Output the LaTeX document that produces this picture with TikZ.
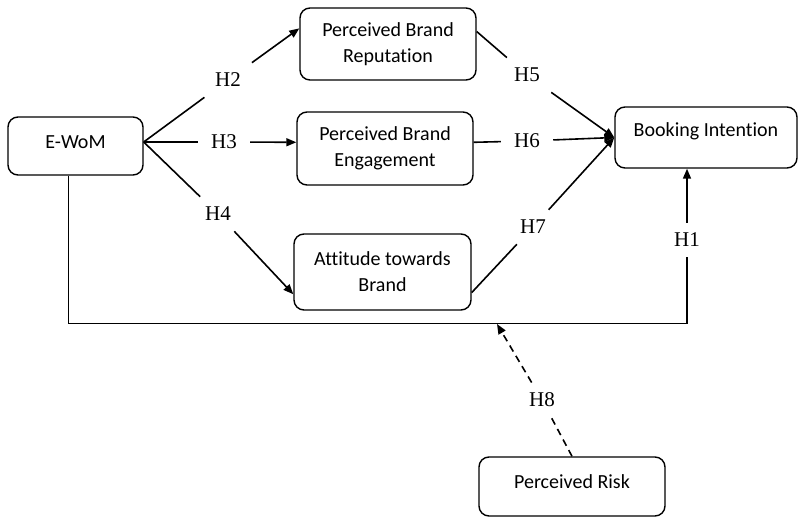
\documentclass[tikz,border=0pt]{standalone}
\usepackage{fontspec}
\setmainfont{Liberation Serif}
\newfontfamily\boxfont[Ligatures={NoCommon}]{Carlito}
\usetikzlibrary{positioning,arrows.meta}

\tikzset{
  conbox/.style={draw, line width=0.7pt, rounded corners=5pt, align=center,
    inner sep=0pt, font=\boxfont\fontsize{10}{13}\selectfont},
  hlabel/.style={inner xsep=6.5pt, inner ysep=5pt, font=\fontsize{10.5}{12}\selectfont},
  plain/.style={line width=0.8pt},
  link/.style={line width=0.8pt, -{Triangle[length=5pt,width=4pt]}},
  loopline/.style={line width=0.5pt},
  riskline/.style={line width=0.8pt, dash pattern=on 3.5pt off 2.5pt},
}

\begin{document}
\begin{tikzpicture}[x=0.5pt,y=-0.5pt]
\useasboundingbox (0,0) rectangle (798,517);

% constructs
\node[conbox, minimum width=67.5pt, minimum height=29pt, text height=7pt, text depth=4pt] (ewom) at (75.5,146) {E-WoM};
\node[conbox, minimum width=88pt, minimum height=36pt] (pbr) at (388,44) {Perceived Brand\\Reputation};
\node[conbox, minimum width=88pt, minimum height=36.5pt] (pbe) at (385,148.5) {Perceived Brand\\Engagement};
\node[conbox, minimum width=88.5pt, minimum height=38pt] (att) at (382.5,272) {Attitude towards\\Brand};
\node[conbox, minimum width=91pt, minimum height=30.5pt, text height=7pt, text depth=7.5pt] (bi) at (706,137.5) {Booking Intention};
\node[conbox, minimum width=93pt, minimum height=29.5pt, text height=7pt, text depth=4.5pt] (pr) at (572,486.5) {Perceived Risk};

% hypothesis labels
\node[hlabel] (h1) at (687,240) {H1};
\node[hlabel] (h2) at (228,80) {H2};
\node[hlabel] (h3) at (224,142) {H3};
\node[hlabel] (h4) at (218,214) {H4};
\node[hlabel] (h5) at (527,75) {H5};
\node[hlabel] (h6) at (527,141) {H6};
\node[hlabel] (h7) at (533,227) {H7};
\node[hlabel] (h8) at (542,400) {H8};

\coordinate (ewomout) at ([yshift=2pt]ewom.east);
\coordinate (loopstart) at ([xshift=-3.5pt]ewom.south);
\coordinate (loopcorner) at (687,324);
\coordinate (modpoint) at (497,324);

% E-WoM to mediators
\draw[plain] (ewomout) -- (h2);
\draw[link] (h2) -- (pbr.170);
\draw[plain] (ewomout) -- (h3);
\draw[link] (h3) -- (pbe.176);
\draw[plain] (ewomout) -- (h4);
\draw[link] (h4) -- (att.194);

% mediators to booking intention
\draw[plain] (pbr.8) -- (h5);
\draw[link] (h5) -- (bi.west);
\draw[plain] (pbe.4) -- (h6);
\draw[link] (h6) -- (bi.west);
\draw[plain] (att.-13) -- (h7);
\draw[link] (h7) -- (bi.west);

% direct path
\draw[loopline] (loopstart) |- (loopcorner);
\draw[plain] (loopcorner) -- (h1);
\draw[link] (h1) -- (h1 |- bi.south);

% moderator
\draw[riskline] (pr.north) -- (h8);
\draw[riskline, link] (h8) -- (modpoint);
\end{tikzpicture}
\end{document}
